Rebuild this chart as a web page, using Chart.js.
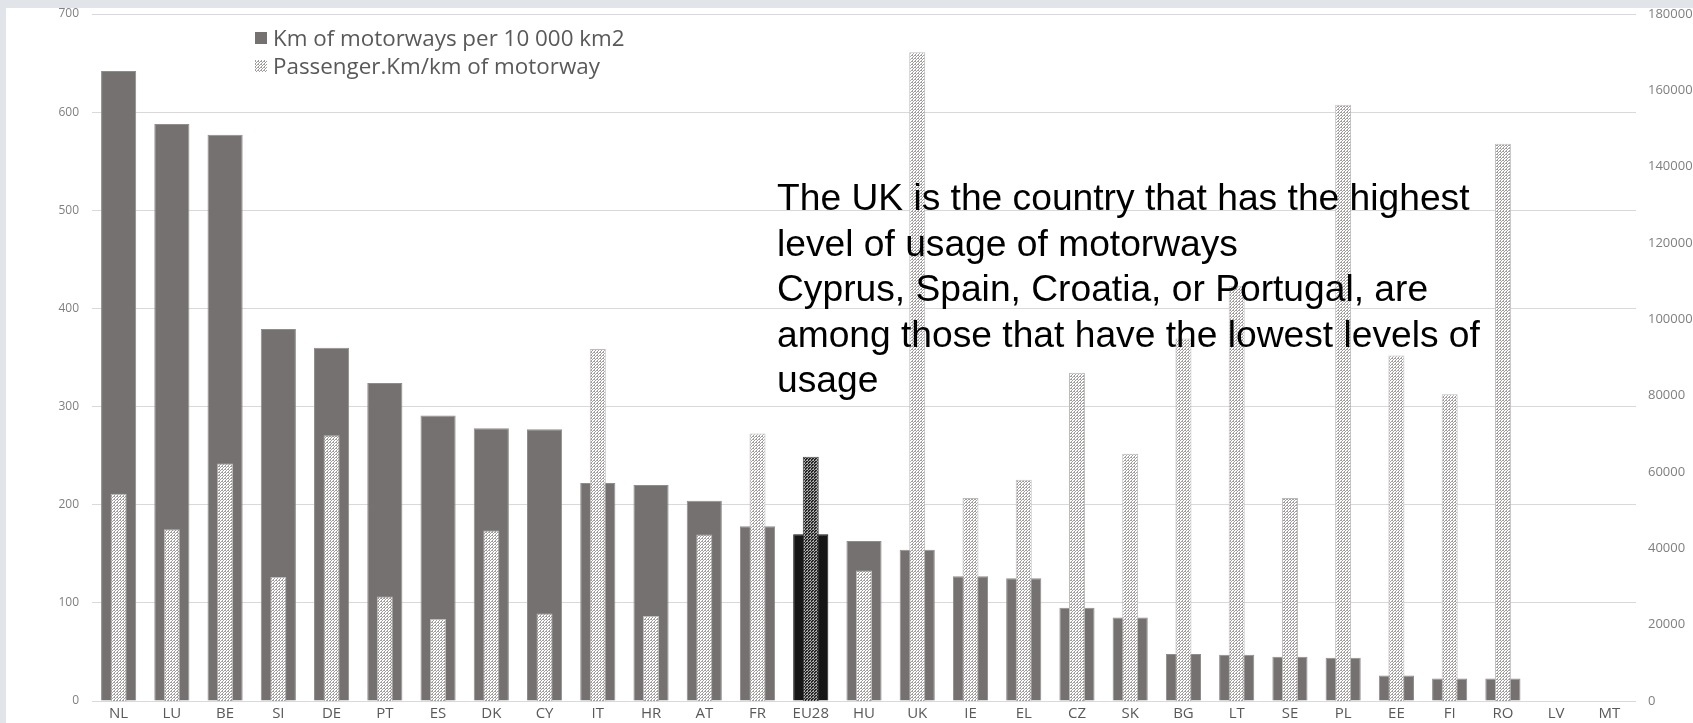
<!DOCTYPE html>
<html>
<head>
<meta charset="utf-8">
<script src="https://cdn.jsdelivr.net/npm/chart.js@4.4.1/dist/chart.umd.min.js"></script>
<style>
  html, body { margin: 0; padding: 0; background: #e1e5ea; }
  #wrap { position: relative; width: 1693px; height: 723px; overflow: hidden; }
  #panel { position: absolute; left: 6px; top: 8px; width: 1687px; height: 715px; background: #fff; }
  #chart { position: absolute; left: 0; top: 0; }
  .legend { position: absolute; left: 255px; font: 22.4px "Open Sans", sans-serif; color: #595959; }
  .legend .sw { position: absolute; left: 0; width: 12px; height: 12px; }
  .legend span { position: absolute; left: 18px; white-space: nowrap; line-height: 30px; top: -15px; }
  #note { position: absolute; left: 777px; top: 175px; font: 37.2px "Liberation Sans", Arial, sans-serif; line-height: 45.5px; color: #000; white-space: nowrap; }
</style>
</head>
<body>
<div id="wrap">
  <div id="panel"></div>
  <canvas id="chart" width="1693" height="723"></canvas>
  <div class="legend" style="top:38px"><div class="sw" style="top:-6px;background:#767171"></div><span>Km of motorways per 10 000 km2</span></div>
  <div class="legend" style="top:66px"><canvas class="sw" id="sw2" width="12" height="12" style="top:-6px"></canvas><span>Passenger.Km/km of motorway</span></div>
  <div id="note">The UK is the country that has the highest<br>level of usage of motorways<br>Cyprus, Spain, Croatia, or Portugal, are<br>among those that have the lowest levels of<br>usage</div>
</div>
<script>
const countries = ["NL", "LU", "BE", "SI", "DE", "PT", "ES", "DK", "CY", "IT", "HR", "AT", "FR", "EU28", "HU", "UK", "IE", "EL", "CZ", "SK", "BG", "LT", "SE", "PL", "EE", "FI", "RO", "LV", "MT"];
const kmPer10000 = [642, 588, 577, 379, 360, 324, 291, 278, 277, 222, 220, 204, 178, 170, 163, 154, 127, 125, 95, 85, 48, 47, 45, 44, 26, 23, 23, null, null];
const passengerKm = [54300, 45000, 62200, 32500, 69600, 27400, 21500, 44700, 22900, 92200, 22300, 43600, 70100, 64000, 34200, 170000, 53200, 58000, 86000, 64800, 95000, 108700, 53200, 156200, 90500, 80400, 146000, null, null];
const leftTicks = [0, 100, 200, 300, 400, 500, 600, 700];
const rightTicks = [0, 20000, 40000, 60000, 80000, 100000, 120000, 140000, 160000, 180000];

const EU = countries.indexOf("EU28");

function makePattern(bg, fg) {
  const t = document.createElement("canvas");
  t.width = 3; t.height = 3;
  const c = t.getContext("2d");
  c.fillStyle = bg; c.fillRect(0, 0, 3, 3);
  c.fillStyle = fg;
  c.fillRect(0, 0, 1, 2);
  c.fillRect(2, 1, 1, 1);
  c.fillRect(1, 2, 1, 1);
  return c.createPattern(t, "repeat");
}

// no extra room for half tick labels, the plot area is pinned by layout padding
function fixAxis(s) {
  s.paddingTop = 0;
  s.paddingBottom = 0;
}

const ctx = document.getElementById("chart").getContext("2d");
const lightDots = makePattern("#ffffff", "#a29e9e");
const darkDots = makePattern("#262626", "#a8a8a8");

const sw = document.getElementById("sw2").getContext("2d");
sw.fillStyle = makePattern("#ffffff", "#a29e9e");
sw.fillRect(0, 0, 12, 12);

new Chart(ctx, {
  type: "bar",
  data: {
    labels: countries,
    datasets: [
      {
        label: "Passenger.Km/km of motorway",
        data: passengerKm,
        yAxisID: "y2",
        grouped: false,
        order: 0,
        barPercentage: 0.3,
        categoryPercentage: 1,
        backgroundColor: countries.map((c, i) => i === EU ? darkDots : lightDots),
        borderColor: countries.map((c, i) => i === EU ? "#444" : "#bdbaba"),
        borderWidth: 1,
      },
      {
        label: "Km of motorways per 10 000 km2",
        data: kmPer10000,
        yAxisID: "y",
        grouped: false,
        order: 1,
        barPercentage: 0.66,
        categoryPercentage: 1,
        backgroundColor: countries.map((c, i) => i === EU ? "#161616" : "#767171"),
        borderColor: countries.map((c, i) => i === EU ? "#161616" : "#908c8c"),
        borderWidth: 1,
      },
    ],
  },
  options: {
    responsive: false,
    animation: false,
    devicePixelRatio: 1,
    layout: { padding: { top: 14, left: 0, right: 0, bottom: 0 } },
    plugins: { legend: { display: false }, tooltip: { enabled: false } },
    scales: {
      x: {
        afterFit: (s) => { s.height = 22; s.paddingLeft = 0; s.paddingRight = 0; },
        grid: { display: false, drawTicks: false },
        border: { display: false },
        ticks: { color: "#595959", font: { family: "Open Sans", size: 15 }, padding: 4, maxRotation: 0, autoSkip: false },
      },
      y: {
        position: "left",
        min: 0,
        max: 700,
        afterFit: (s) => { s.width = 92; fixAxis(s); },
        afterBuildTicks: (s) => { s.ticks = leftTicks.map((v) => ({ value: v })); },
        grid: { color: "#d9d9d9", lineWidth: 1, drawTicks: false },
        border: { display: false },
        ticks: { color: "#7f7f7f", font: { family: "Open Sans", size: 12 }, padding: 13 },
      },
      y2: {
        position: "right",
        min: 0,
        max: 180000,
        afterFit: (s) => { s.width = 57; fixAxis(s); },
        afterBuildTicks: (s) => { s.ticks = rightTicks.map((v) => ({ value: v })); },
        grid: { display: false, drawTicks: false },
        border: { display: false },
        ticks: { color: "#7f7f7f", font: { family: "Open Sans", size: 13 }, padding: 12, callback: (v) => String(v) },
      },
    },
  },
});
</script>
</body>
</html>
